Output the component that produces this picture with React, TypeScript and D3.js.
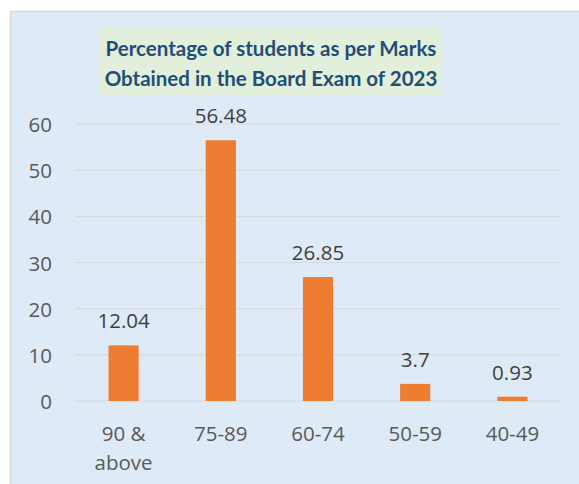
import React from "react";
import * as d3 from "d3";

const categories = ["90 & above", "75-89", "60-74", "50-59", "40-49"];
const categoryLines = [["90 &", "above"], ["75-89"], ["60-74"], ["50-59"], ["40-49"]];
const values = [12.04, 56.48, 26.85, 3.7, 0.93];
const valueLabels = ["12.04", "56.48", "26.85", "3.7", "0.93"];
const yTicks = [0, 10, 20, 30, 40, 50, 60];
const titleLines = ["Percentage of students as per Marks", "Obtained in the Board Exam of 2023"];

const W = 579;
const H = 484;
const TITLE_FONT = "Lato, 'Open Sans', sans-serif";
const FONT = "'Open Sans', Lato, sans-serif";

export default function App() {
  const x = d3.scaleBand<string>().domain(categories).range([75, 561]).paddingInner(0.69).paddingOuter(0.345);
  const y = d3.scaleLinear().domain([0, 60]).range([401, 124]);

  return (
    <svg width={W} height={H} style={{ position: "absolute", left: 0, top: 0 }} fontFamily={FONT}>
      <rect x={0} y={0} width={W} height={H} fill="#ffffff" />
      <rect x={10.5} y={11.5} width={W + 10} height={H + 10} fill="#DEEAF6" stroke="#D9D9D9" strokeWidth={1.5} />
      <rect x={100} y={28} width={342} height={67} fill="#E2EFDA" />
      {titleLines.map((t, i) => (
        <text key={i} x={271} y={48 + i * 29.5} textAnchor="middle" dominantBaseline="central" fontFamily={TITLE_FONT} fontSize={20.5} fontWeight={700} fill="#1F4E79">
          {t}
        </text>
      ))}
      {yTicks.map((t) => (
        <g key={t}>
          <line x1={75} x2={561} y1={y(t)} y2={y(t)} stroke="#D9D9D9" strokeWidth={1.2} />
          <text x={52} y={y(t)} textAnchor="end" dominantBaseline="central" fontSize={20.5} fill="#595959">
            {t}
          </text>
        </g>
      ))}
      {categories.map((c, i) => (
        <g key={c}>
          <rect x={x(c)} y={y(values[i])} width={x.bandwidth()} height={y(0) - y(values[i])} fill="#ED7D31" />
          <text x={(x(c) as number) + x.bandwidth() / 2} y={y(values[i]) - 25} textAnchor="middle" dominantBaseline="central" fontSize={20.5} fill="#404040">
            {valueLabels[i]}
          </text>
          {categoryLines[i].map((l, j) => (
            <text key={j} x={(x(c) as number) + x.bandwidth() / 2} y={433 + j * 29} textAnchor="middle" dominantBaseline="central" fontSize={20.5} fill="#595959">
              {l}
            </text>
          ))}
        </g>
      ))}
    </svg>
  );
}
